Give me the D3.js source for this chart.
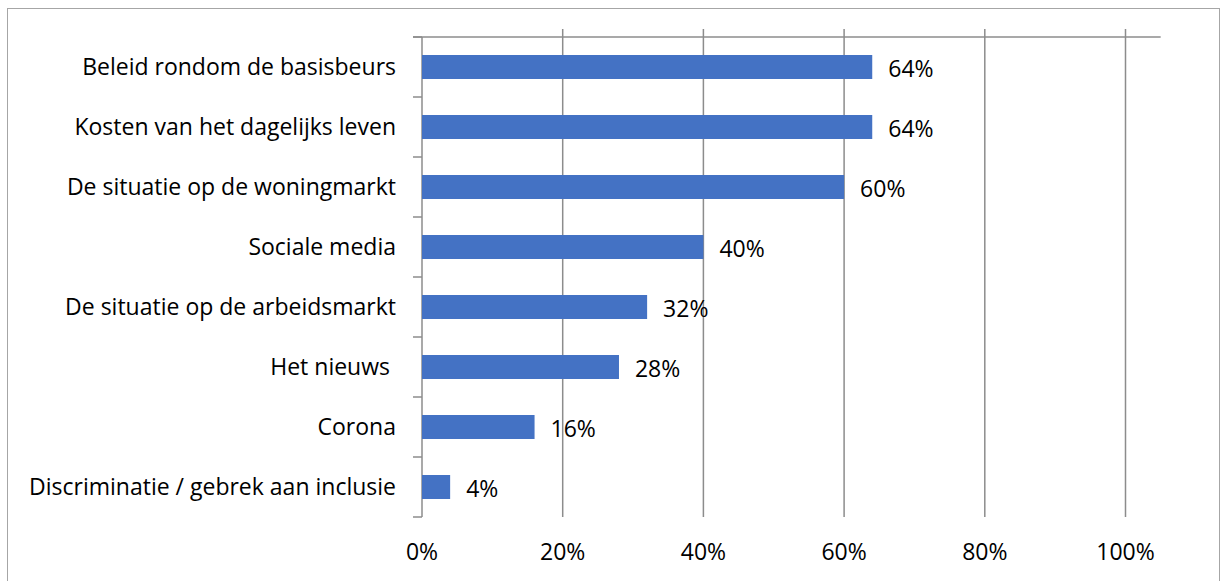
<!DOCTYPE html>
<html>
<head>
<meta charset="utf-8">
<script src="https://cdn.jsdelivr.net/npm/d3@7"></script>
<style>
  body { margin: 0; background: #fff; }
  text { font-family: "Open Sans", "Noto Sans", sans-serif; white-space: pre; }
</style>
</head>
<body>
<div id="canvas"></div>
<script>
"use strict"

/* data */
let categories = [
    "Beleid rondom de basisbeurs",
    "Kosten van het dagelijks leven",
    "De situatie op de woningmarkt",
    "Sociale media",
    "De situatie op de arbeidsmarkt",
    "Het nieuws ",
    "Corona",
    "Discriminatie / gebrek aan inclusie"
]
let values = [64, 64, 60, 40, 32, 28, 16, 4]
let xTicks = [0, 20, 40, 60, 80, 100]

let svgWidth = 1221
let svgHeight = 581
let fontSize = "23px"

let margin = { top: 37, left: 422, bottom: 64, right: 95 }

let svg = d3.select("#canvas")
    .append("svg")
    .attr("width", svgWidth)
    .attr("height", svgHeight)

/* outer frame, bottom edge falls outside the picture */
svg.append("rect")
    .attr("x", 7.5)
    .attr("y", 8.5)
    .attr("width", 1212)
    .attr("height", 600)
    .attr("fill", "none")
    .attr("stroke", "#a6a6a6")
    .attr("stroke-width", 1)

let xScale = d3.scaleLinear()
    .domain([0, 100])
    .range([margin.left, 1125.5])

let yScale = d3.scaleBand()
    .domain(categories)
    .range([margin.top, 517])
    .paddingInner(0.6)
    .paddingOuter(0.3)

/* vertical gridlines, poke a bit above the top line */
svg.append("g")
    .selectAll("line")
    .data(xTicks.slice(1))
    .join("line")
    .attr("x1", d => xScale(d))
    .attr("x2", d => xScale(d))
    .attr("y1", 29)
    .attr("y2", 517)
    .attr("stroke", "#8c8c8c")
    .attr("stroke-width", 1.5)

/* top horizontal line */
svg.append("line")
    .attr("x1", 413)
    .attr("x2", xScale(105))
    .attr("y1", margin.top)
    .attr("y2", margin.top)
    .attr("stroke", "#8c8c8c")
    .attr("stroke-width", 1.5)

/* category axis with ticks between bands */
svg.append("line")
    .attr("x1", margin.left)
    .attr("x2", margin.left)
    .attr("y1", margin.top)
    .attr("y2", 517)
    .attr("stroke", "#8c8c8c")
    .attr("stroke-width", 1.5)
svg.append("g")
    .selectAll("line")
    .data(d3.range(categories.length + 1))
    .join("line")
    .attr("x1", 413)
    .attr("x2", margin.left)
    .attr("y1", i => margin.top + i * yScale.step())
    .attr("y2", i => margin.top + i * yScale.step())
    .attr("stroke", "#8c8c8c")
    .attr("stroke-width", 1.5)

/* bars */
svg.append("g")
    .selectAll("rect")
    .data(values)
    .join("rect")
    .attr("x", xScale(0))
    .attr("y", (d, i) => yScale(categories[i]))
    .attr("width", d => xScale(d) - xScale(0))
    .attr("height", yScale.bandwidth())
    .attr("fill", "#4472c4")

/* value labels, sit a touch lower than the category names */
svg.append("g")
    .selectAll("text")
    .data(values)
    .join("text")
    .attr("x", d => xScale(d) + 16)
    .attr("y", (d, i) => yScale(categories[i]) + yScale.bandwidth() / 2 + 2)
    .attr("dy", "0.35em")
    .attr("font-size", fontSize)
    .attr("fill", "#000")
    .text(d => d + "%")

/* category labels */
svg.append("g")
    .selectAll("text")
    .data(categories)
    .join("text")
    .attr("x", 396)
    .attr("y", d => yScale(d) + yScale.bandwidth() / 2)
    .attr("dy", "0.35em")
    .attr("text-anchor", "end")
    .attr("font-size", fontSize)
    .attr("fill", "#000")
    .text(d => d)

/* x tick labels */
svg.append("g")
    .selectAll("text")
    .data(xTicks)
    .join("text")
    .attr("x", d => xScale(d))
    .attr("y", 552)
    .attr("dy", "0.35em")
    .attr("text-anchor", "middle")
    .attr("font-size", fontSize)
    .attr("fill", "#000")
    .text(d => d + "%")
</script>
</body>
</html>
